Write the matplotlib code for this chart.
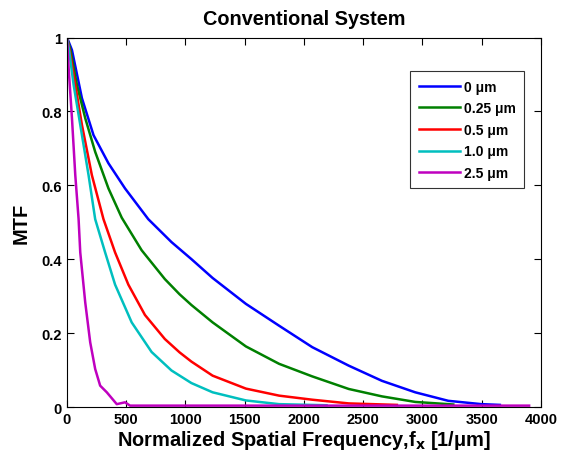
import numpy as np
import matplotlib
matplotlib.use('Agg')
import matplotlib.pyplot as plt

# MTF curves for different defocus values
fx_0 = [0, 42, 126, 224, 350, 490, 686, 882, 1050, 1229, 1510, 1790, 2070, 2378,
        2658, 2939, 3218, 3498, 3653]
mtf_0 = [1.0, 0.966, 0.836, 0.736, 0.660, 0.592, 0.509, 0.447, 0.401, 0.350, 0.280,
         0.221, 0.163, 0.113, 0.072, 0.041, 0.018, 0.009, 0.007]

fx_025 = [0, 30, 84, 154, 238, 350, 462, 630, 826, 950, 1050, 1229, 1510, 1790, 2070,
          2378, 2658, 2939, 3218, 3260]
mtf_025 = [1.0, 0.965, 0.872, 0.782, 0.691, 0.592, 0.513, 0.425, 0.347, 0.306, 0.277, 0.230,
           0.165, 0.118, 0.084, 0.050, 0.030, 0.015, 0.009, 0.008]

fx_05 = [0, 25, 70, 126, 210, 308, 406, 518, 658, 826, 950, 1050, 1229, 1510, 1790, 2070,
         2378, 2784]
mtf_05 = [1.0, 0.96, 0.872, 0.764, 0.628, 0.509, 0.419, 0.332, 0.250, 0.185, 0.149, 0.124,
          0.086, 0.051, 0.032, 0.021, 0.011, 0.007]

fx_10 = [0, 20, 56, 112, 182, 238, 322, 406, 546, 714, 882, 1050, 1229, 1510, 1790, 2190]
mtf_10 = [1.0, 0.96, 0.872, 0.764, 0.628, 0.509, 0.419, 0.332, 0.230, 0.150, 0.100,
          0.066, 0.041, 0.019, 0.009, 0.006]

fx_25 = [0, 14, 42, 70, 98, 112, 154, 196, 238, 280, 336, 420, 490, 532, 1000, 2000, 3000, 3900]
mtf_25 = [1.0, 0.917, 0.782, 0.628, 0.509, 0.419, 0.284, 0.176, 0.104, 0.059, 0.041, 0.009,
          0.014, 0.005, 0.005, 0.005, 0.005, 0.005]

labels = ['0 \u03bcm', '0.25 \u03bcm', '0.5 \u03bcm', '1.0 \u03bcm', '2.5 \u03bcm']
colors = ['#0000ff', '#008000', '#ff0000', '#00bfbf', '#bf00bf']

plt.rcParams['font.family'] = ['Liberation Sans', 'DejaVu Sans']
plt.rcParams['font.weight'] = 'bold'

fig = plt.figure(figsize=(5.61, 4.60), dpi=100)
ax = fig.add_axes([0.1194, 0.112, 0.8449, 0.8043])

series = [(fx_0, mtf_0), (fx_025, mtf_025), (fx_05, mtf_05), (fx_10, mtf_10), (fx_25, mtf_25)]
for (fx, mtf), lab, c in zip(series, labels, colors):
    ax.plot(fx, mtf, color=c, lw=1.8, label=lab)

ax.set_xlim(0, 4000)
ax.set_ylim(0, 1)
ax.set_xticks(np.arange(0, 4001, 500))
ax.set_yticks([0, 0.2, 0.4, 0.6, 0.8, 1.0])
ax.set_yticklabels(['0', '0.2', '0.4', '0.6', '0.8', '1'])
ax.tick_params(direction='in', top=True, right=True, length=5, labelsize=10.5, width=0.8)
for lbl in ax.get_xticklabels() + ax.get_yticklabels():
    lbl.set_fontweight('bold')
for sp in ax.spines.values():
    sp.set_linewidth(0.8)

ax.set_title('Conventional System', fontsize=14.3, fontweight='bold', pad=10)
ax.set_xlabel('Normalized Spatial Frequency,f$_{\\mathbf{x}}$ [1/\u03bcm]', fontsize=14.4,
              fontweight='bold', labelpad=1)
ax.set_ylabel('MTF', fontsize=14.4, fontweight='bold', labelpad=8)

leg = ax.legend(loc='upper right', bbox_to_anchor=(0.964, 0.909), borderaxespad=0,
                fancybox=False, edgecolor='black', fontsize=10, handlelength=3.0,
                handletextpad=0.25, borderpad=0.6, labelspacing=0.55)
leg.get_frame().set_linewidth(0.8)
for t in leg.get_texts():
    t.set_fontweight('bold')

fig.savefig('out.png', dpi=100)
